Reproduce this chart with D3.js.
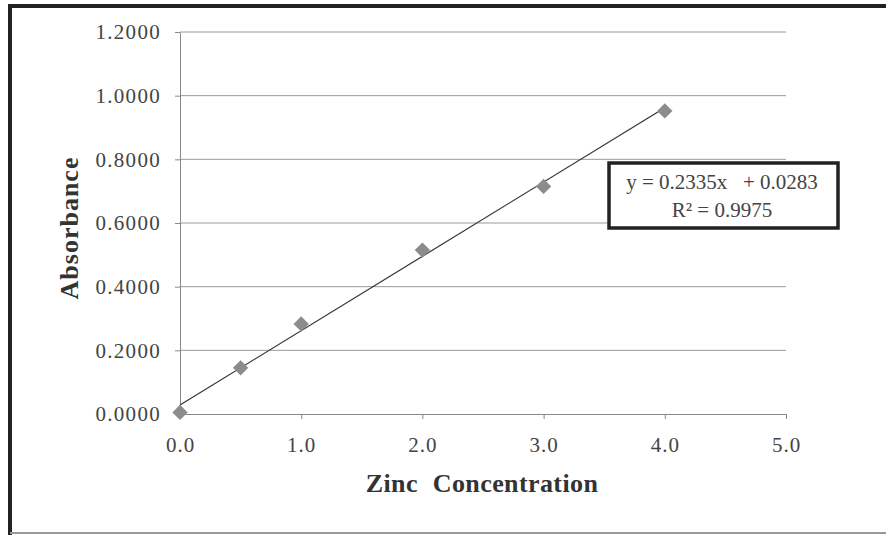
<!DOCTYPE html>
<html>
<head>
<meta charset="utf-8">
<script src="https://cdn.jsdelivr.net/npm/d3@7"></script>
<style>
  body { margin: 0; background: #fff; }
  svg { display: block; font-family: "Liberation Serif", "Times New Roman", serif; }
</style>
</head>
<body>
<svg id="chart" width="886" height="535"></svg>
<script>
// data
const concentration = [0, 0.5, 1, 2, 3, 4];
const absorbance = [0.005, 0.145, 0.283, 0.515, 0.715, 0.952];
const xTicks = [0, 1, 2, 3, 4, 5];
const yTicks = [0, 0.2, 0.4, 0.6, 0.8, 1.0, 1.2];
const slope = 0.2335, intercept = 0.0283;
const eqLines = ["y = 0.2335x   + 0.0283", "R\u00b2 = 0.9975"];

const svg = d3.select("#chart");

// outer frame
svg.append("line").attr("x1", 8).attr("x2", 886).attr("y1", 6).attr("y2", 6)
  .attr("stroke", "#222").attr("stroke-width", 4);
svg.append("line").attr("x1", 10).attr("x2", 10).attr("y1", 4).attr("y2", 535)
  .attr("stroke", "#222").attr("stroke-width", 4);
svg.append("line").attr("x1", 10).attr("x2", 886).attr("y1", 533).attr("y2", 533)
  .attr("stroke", "#999").attr("stroke-width", 2);

const x = d3.scaleLinear().domain([0, 5]).range([180, 786]);
const y = d3.scaleLinear().domain([0, 1.2]).range([414, 32]);

// gridlines
svg.append("g").selectAll("line").data(yTicks.filter(d => d > 0)).join("line")
  .attr("x1", x(0)).attr("x2", x(5))
  .attr("y1", d => y(d)).attr("y2", d => y(d))
  .attr("stroke", "#9a9a9a").attr("stroke-width", 1);

// y axis
const yAxis = svg.append("g").attr("transform", `translate(${x(0)},0)`)
  .call(d3.axisLeft(y).tickValues(yTicks).tickFormat(d3.format(".4f")).tickSize(5).tickSizeOuter(0));
yAxis.select(".domain").attr("stroke", "#888");
yAxis.selectAll(".tick line").attr("stroke", "#888");
yAxis.selectAll("text").attr("font-size", 21).attr("fill", "#444")
  .attr("font-family", "Liberation Serif").attr("letter-spacing", 1.3).attr("x", -19);

// x axis
const xAxis = svg.append("g").attr("transform", `translate(0,${y(0)})`)
  .call(d3.axisBottom(x).tickValues(xTicks).tickFormat(d3.format(".1f")).tickSize(5).tickSizeOuter(0));
xAxis.select(".domain").attr("stroke", "#888");
xAxis.selectAll(".tick line").attr("stroke", "#888");
xAxis.selectAll("text").attr("font-size", 21).attr("fill", "#444")
  .attr("font-family", "Liberation Serif").attr("letter-spacing", 1).attr("y", 23);

// trend line
svg.append("line")
  .attr("x1", x(0)).attr("y1", y(intercept))
  .attr("x2", x(4)).attr("y2", y(slope * 4 + intercept))
  .attr("stroke", "#333").attr("stroke-width", 1.2);

// markers
svg.append("g").selectAll("path").data(concentration).join("path")
  .attr("d", d3.symbol(d3.symbolDiamond2, 150))
  .attr("transform", (d, i) => `translate(${x(d)},${y(absorbance[i])})`)
  .attr("fill", "#8c8c8c");

// axis titles
svg.append("text").attr("x", 482).attr("y", 492).attr("text-anchor", "middle")
  .attr("font-size", 26).attr("font-weight", "bold").attr("fill", "#333")
  .attr("word-spacing", 8).attr("letter-spacing", 0.4).text("Zinc Concentration");
svg.append("text").attr("transform", "translate(78,228) rotate(-90)").attr("text-anchor", "middle")
  .attr("font-size", 26).attr("font-weight", "bold").attr("fill", "#333")
  .attr("letter-spacing", 1).text("Absorbance");

// equation box
const eq = svg.append("g").attr("transform", "translate(609,163)");
eq.append("rect").attr("width", 229).attr("height", 65)
  .attr("fill", "#fff").attr("stroke", "#222").attr("stroke-width", 3.5);
eq.selectAll("text").data(eqLines).join("text")
  .attr("x", 113).attr("y", (d, i) => 26 + i * 28).attr("text-anchor", "middle")
  .attr("font-size", 21).attr("fill", "#444")
  .attr("xml:space", "preserve").style("white-space", "pre")
  .text(d => d);
</script>
</body>
</html>
